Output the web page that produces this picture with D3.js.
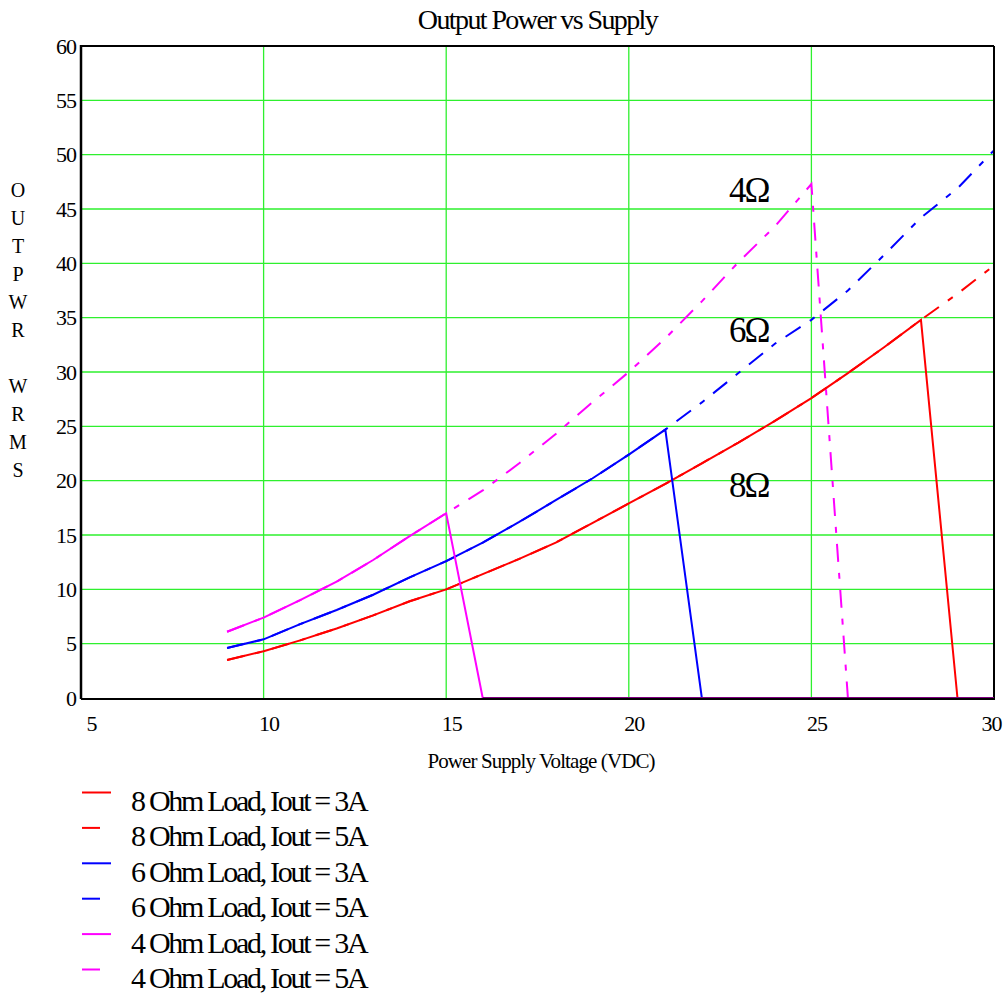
<!DOCTYPE html>
<html>
<head>
<meta charset="utf-8">
<script src="https://cdn.jsdelivr.net/npm/d3@7"></script>
<style>
    body { margin: 0; background: #ffffff; }
    svg { display: block; font-family: "Liberation Serif", "Times New Roman", serif; }
</style>
</head>
<body>
<svg id="chart" width="1003" height="994"></svg>
<script>
// supply voltage (x)
const volts = [9, 10, 11, 12, 13, 14, 15, 16, 17, 18, 19, 20, 21, 22, 23, 24, 25, 26, 27, 28, 29, 30];

// output power, W rms, one array per curve
const ohm8Iout3 = [3.5, 4.3, 5.3, 6.4, 7.6, 8.9, 10.0, 11.4, 12.8, 14.3, 16.1, 17.9, 19.7, 21.6, 23.5, 25.5, 27.6, 29.9, 32.3, 34.8, 0, 0];
const ohm8Iout5 = [3.5, 4.3, 5.3, 6.4, 7.6, 8.9, 10.0, 11.4, 12.8, 14.3, 16.1, 17.9, 19.7, 21.6, 23.5, 25.5, 27.6, 29.9, 32.3, 34.8, 37.2, 39.8];
const ohm6Iout3 = [4.6, 5.4, 6.8, 8.1, 9.5, 11.1, 12.6, 14.3, 16.2, 18.2, 20.2, 22.4, 24.7, 0, 0, 0, 0, 0, 0, 0, 0, 0];
const ohm6Iout5 = [4.6, 5.4, 6.8, 8.1, 9.5, 11.1, 12.6, 14.3, 16.2, 18.2, 20.2, 22.4, 24.7, 27.2, 29.9, 32.6, 34.8, 37.5, 40.8, 44.2, 46.9, 50.4];
const ohm4Iout3 = [6.1, 7.4, 9.0, 10.7, 12.7, 14.9, 17.0, 0, 0, 0, 0, 0, 0, 0, 0, 0, 0, 0, 0, 0, 0, 0];
const ohm4Iout5 = [6.1, 7.4, 9.0, 10.7, 12.7, 14.9, 17.0, 19.1, 21.6, 24.3, 27.2, 30.0, 33.1, 36.5, 40.1, 43.4, 47.3, 0, 0, 0, 0, 0];

// axis ticks
const xTicks = [5, 10, 15, 20, 25, 30];
const yTicks = [0, 5, 10, 15, 20, 25, 30, 35, 40, 45, 50, 55, 60];

// legend / annotation text
const seriesNames = [
    "8 Ohm Load, Iout = 3A", "8 Ohm Load, Iout = 5A",
    "6 Ohm Load, Iout = 3A", "6 Ohm Load, Iout = 5A",
    "4 Ohm Load, Iout = 3A", "4 Ohm Load, Iout = 5A"
];
const loadLabels = ["4Ω", "6Ω", "8Ω"];
const loadLabelValues = [45.6, 32.8, 18.5];

const series = [
    {name: seriesNames[0], values: ohm8Iout3, color: "#ff0000", dashed: false},
    {name: seriesNames[1], values: ohm8Iout5, color: "#ff0000", dashed: true},
    {name: seriesNames[2], values: ohm6Iout3, color: "#0000ff", dashed: false},
    {name: seriesNames[3], values: ohm6Iout5, color: "#0000ff", dashed: true},
    {name: seriesNames[4], values: ohm4Iout3, color: "#ff00ff", dashed: false},
    {name: seriesNames[5], values: ohm4Iout5, color: "#ff00ff", dashed: true}
];

const dashPattern = "18,11,6,11";

const svg = d3.select("#chart");

// plot area
const plot = {left: 81, right: 994, top: 46, bottom: 698};

const x = d3.scaleLinear().domain([5, 30]).range([plot.left, plot.right]);
const y = d3.scaleLinear().domain([0, 60]).range([plot.bottom, plot.top]);

// grid
const grid = svg.append("g").attr("stroke", "#2ef02e").attr("stroke-width", 1.3);
grid.selectAll(".vgrid").data(xTicks.slice(1, -1)).enter().append("line")
    .attr("x1", d => x(d)).attr("x2", d => x(d))
    .attr("y1", plot.top).attr("y2", plot.bottom);
grid.selectAll(".hgrid").data(yTicks.slice(1, -1)).enter().append("line")
    .attr("x1", plot.left).attr("x2", plot.right)
    .attr("y1", d => y(d)).attr("y2", d => y(d));

// curves, dashed first so solid ones sit on top
const line = d3.line().x((d, i) => x(volts[i])).y(d => y(d));
const curves = svg.append("g").attr("fill", "none");
const order = series.filter(s => s.dashed).concat(series.filter(s => !s.dashed));
curves.selectAll("path").data(order).enter().append("path")
    .attr("d", s => line(s.values))
    .attr("stroke", s => s.color)
    .attr("stroke-width", 2)
    .attr("stroke-dasharray", s => s.dashed ? dashPattern : null);

// frame
const frame = svg.append("g").attr("stroke", "#000");
frame.append("line").attr("x1", plot.left).attr("x2", plot.right).attr("y1", plot.top).attr("y2", plot.top).attr("stroke-width", 2);
frame.append("line").attr("x1", plot.right).attr("x2", plot.right).attr("y1", plot.top).attr("y2", plot.bottom).attr("stroke-width", 2);
frame.append("line").attr("x1", plot.left).attr("x2", plot.left).attr("y1", plot.top - 1).attr("y2", plot.bottom + 1).attr("stroke-width", 2.5);
frame.append("line").attr("x1", plot.left).attr("x2", plot.right + 1).attr("y1", plot.bottom + 1).attr("y2", plot.bottom + 1).attr("stroke-width", 2);

// zero-level segments show through the bottom axis as a purple tint
svg.append("line")
    .attr("x1", x(16)).attr("x2", x(30))
    .attr("y1", plot.bottom - 0.5).attr("y2", plot.bottom - 0.5)
    .attr("stroke", "#800080").attr("stroke-width", 1.2);

// y axis labels
const axisY = d3.axisLeft(y).tickValues(yTicks).tickSize(0).tickPadding(5);
const yG = svg.append("g").attr("transform", `translate(${plot.left},0)`).call(axisY);
yG.select(".domain").remove();
yG.selectAll("text")
    .attr("font-family", "Liberation Serif")
    .attr("font-size", 22)
    .attr("letter-spacing", -1)
    .attr("fill", "#000");

// x axis labels
const axisX = d3.axisBottom(x).tickValues(xTicks).tickSize(0).tickPadding(17);
const xG = svg.append("g").attr("transform", `translate(0,${plot.bottom})`).call(axisX);
xG.select(".domain").remove();
xG.selectAll("text")
    .attr("font-family", "Liberation Serif")
    .attr("font-size", 22)
    .attr("letter-spacing", -1)
    .attr("fill", "#000")
    .attr("dx", d => d === 5 ? 10 : (d === 30 ? -3 : 5));

// title
svg.append("text")
    .attr("x", (plot.left + plot.right) / 2)
    .attr("y", 29)
    .attr("text-anchor", "middle")
    .attr("font-size", 28)
    .attr("letter-spacing", -1.6)
    .text("Output Power vs Supply");

// x axis title
svg.append("text")
    .attr("x", 541)
    .attr("y", 768)
    .attr("text-anchor", "middle")
    .attr("font-size", 21)
    .attr("letter-spacing", -0.9)
    .text("Power Supply Voltage (VDC)");

// y axis title, one letter per row
const yTitle = ["O", "U", "T", "P", "W", "R", "", "W", "R", "M", "S"];
svg.append("g").selectAll("text").data(yTitle).enter().append("text")
    .attr("x", 18)
    .attr("y", (d, i) => 197 + i * 28)
    .attr("text-anchor", "middle")
    .attr("font-size", 20)
    .text(d => d);

// load annotations
svg.append("g").selectAll("text").data(loadLabels).enter().append("text")
    .attr("x", 729)
    .attr("y", (d, i) => y(loadLabelValues[i]))
    .attr("font-size", 35)
    .attr("letter-spacing", -2)
    .text(d => d);

// legend
const legend = svg.append("g").attr("transform", "translate(82,792.5)");
const rows = legend.selectAll("g").data(series).enter().append("g")
    .attr("transform", (d, i) => `translate(0,${i * 35.4})`);
rows.append("line")
    .attr("x1", 0).attr("x2", 29)
    .attr("y1", 0).attr("y2", 0)
    .attr("stroke", d => d.color)
    .attr("stroke-width", 2)
    .attr("stroke-dasharray", d => d.dashed ? dashPattern : null);
rows.append("text")
    .attr("x", 49)
    .attr("y", 18.5)
    .attr("font-size", 30)
    .attr("letter-spacing", -2.3)
    .text(d => d.name);
</script>
</body>
</html>
